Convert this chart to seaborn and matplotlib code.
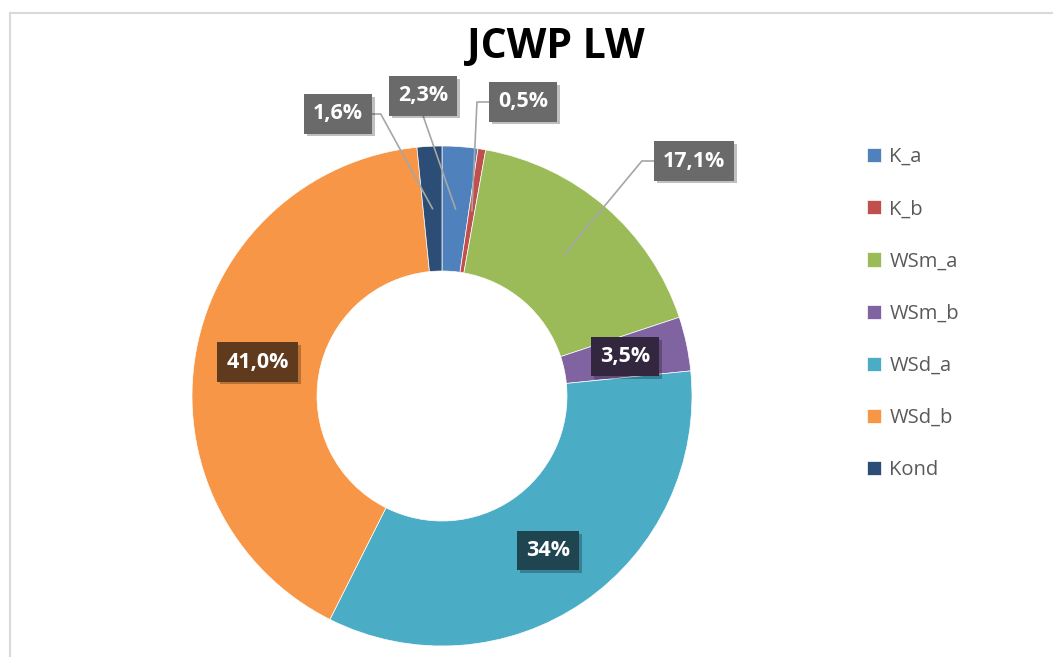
import matplotlib
matplotlib.use("Agg")
import matplotlib.pyplot as plt
import matplotlib.patheffects as pe
from matplotlib.lines import Line2D
import numpy as np
import seaborn as sns

# data
categories = ["K_a", "K_b", "WSm_a", "WSm_b", "WSd_a", "WSd_b", "Kond"]
shares = [2.3, 0.5, 17.1, 3.5, 34.0, 41.0, 1.6]
value_labels = ["2,3%", "0,5%", "17,1%", "3,5%", "34%", "41,0%", "1,6%"]

# style
colors = ["#4F81BD", "#C0504D", "#9BBB59", "#8064A2", "#4BACC6", "#F79646", "#2C4D75"]
inside_box = {"WSm_b": "#33263F", "WSd_a": "#1F4550", "WSd_b": "#5F3A1D"}
# outside labels: centre position (data units) and which box edge the leader leaves from
outside = {
    "K_a": ((-0.076, 1.20), "bottom"),
    "K_b": ((0.324, 1.176), "left"),
    "WSm_a": ((1.008, 0.94), "left"),
    "Kond": ((-0.416, 1.128), "right"),
}

sns.set_theme(style="white")
plt.rcParams["font.family"] = ["Open Sans", "DejaVu Sans"]

W, H = 1053, 657
fig = plt.figure(figsize=(W / 100, H / 100), dpi=100)
fig.patch.set_facecolor("white")

# chart frame (top and left edges visible)
fig.add_artist(Line2D([9.5 / W, 1.0], [1 - 13 / H, 1 - 13 / H], color="#D9D9D9", lw=1.5))
fig.add_artist(Line2D([9.5 / W, 9.5 / W], [0.0, 1 - 13 / H], color="#D9D9D9", lw=1.5))

cx, cy, R = 442, 396, 250
ax = fig.add_axes([(cx - R) / W, (H - cy - R) / H, 2 * R / W, 2 * R / H])
wedges, _ = ax.pie(shares, colors=colors, startangle=90, counterclock=False,
                   radius=1.0, wedgeprops=dict(width=0.5, edgecolor="white", linewidth=0.5))
ax.set_xlim(-1, 1)
ax.set_ylim(-1, 1)
ax.set_aspect("equal")
ax.axis("off")

fig.text(556 / W, 1 - 47 / H, "JCWP LW", ha="center", va="center",
         fontsize=29.5, fontweight="bold", color="black")

shadow = [pe.withSimplePatchShadow(offset=(2, -2), shadow_rgbFace="black", alpha=0.25)]
texts = {}
for w, cat, lab in zip(wedges, categories, value_labels):
    ang = np.deg2rad((w.theta1 + w.theta2) / 2)
    ax_, ay_ = 0.75 * np.cos(ang), 0.75 * np.sin(ang)
    if cat in inside_box:
        pos, fc = (ax_, ay_), inside_box[cat]
    else:
        pos, fc = outside[cat][0], "#6A6A6A"
    t = ax.text(pos[0], pos[1], lab, ha="center", va="center", fontsize=15.5,
                fontweight="bold", color="white", clip_on=False, zorder=5,
                bbox=dict(boxstyle="square,pad=0.42", fc=fc, ec="none"))
    t.get_bbox_patch().set_path_effects(shadow)
    texts[cat] = (t, (ax_, ay_))

# leader lines for outside labels
fig.canvas.draw()
inv = ax.transData.inverted()
for cat, (pos, side) in outside.items():
    t, (px, py) = texts[cat]
    bb = t.get_bbox_patch().get_window_extent()
    (x0, y0), (x1, y1) = inv.transform([[bb.x0, bb.y0], [bb.x1, bb.y1]])
    ym = (y0 + y1) / 2
    if side == "bottom":
        xs, ys = [(x0 + x1) / 2, px], [y0, py]
    elif side == "left":
        xs, ys = [x0, x0 - 0.048, px], [ym, ym, py]
    else:
        xs, ys = [x1, x1 + 0.035, px], [ym, ym, py]
    ax.plot(xs, ys, color="#A6A6A6", lw=1.2, clip_on=False, zorder=4)

leg = fig.legend(wedges, categories, loc="upper left",
                 bbox_to_anchor=(859 / W, 1 - 139 / H), frameon=False,
                 fontsize=14.5, labelcolor="#595959", handlelength=0.7,
                 handleheight=0.7, handletextpad=0.4, labelspacing=1.6,
                 borderaxespad=0)

fig.savefig("out.png", dpi=100, facecolor="white")
